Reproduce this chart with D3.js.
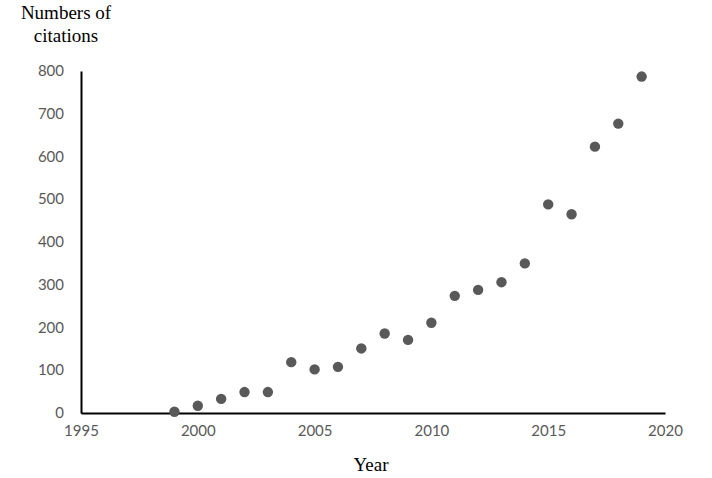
<!DOCTYPE html>
<html>
<head>
<meta charset="utf-8">
<script src="https://cdn.jsdelivr.net/npm/d3@7"></script>
<style>
  body { margin: 0; background: #fff; }
  .tick text { font-family: Lato, "Open Sans", sans-serif; font-size: 15px; fill: #595959; }
  .title { font-family: "Liberation Serif", "Times New Roman", serif; font-size: 19px; fill: #000; }
</style>
</head>
<body>
<div id="chart"></div>
<script>
// citations per year
var years = [1999, 2000, 2001, 2002, 2003, 2004, 2005, 2006, 2007, 2008,
             2009, 2010, 2011, 2012, 2013, 2014, 2015, 2016, 2017, 2018, 2019];
var citations = [3, 17, 33, 49, 49, 119, 102, 108, 151, 186,
                 171, 211, 274, 288, 306, 350, 488, 465, 623, 677, 787];
var xTicks = [1995, 2000, 2005, 2010, 2015, 2020];
var yTicks = [0, 100, 200, 300, 400, 500, 600, 700, 800];

var W = 712, H = 478;
var margin = { top: 71, right: 47, bottom: 65, left: 81 };
var width = W - margin.left - margin.right,
    height = H - margin.top - margin.bottom;

var svg = d3.select("#chart").append("svg")
    .attr("width", W)
    .attr("height", H);
var g = svg.append("g")
    .attr("transform", "translate(" + margin.left + "," + margin.top + ")");

var x = d3.scaleLinear().domain([1995, 2020]).range([0, width]);
var y = d3.scaleLinear().domain([0, 800]).range([height, 0]);

var xAxis = d3.axisBottom(x).tickValues(xTicks).tickSize(0).tickPadding(12)
    .tickFormat(d3.format("d"));
var yAxis = d3.axisLeft(y).tickValues(yTicks).tickSize(0).tickPadding(17);

var xg = g.append("g")
    .attr("transform", "translate(0," + height + ")")
    .call(xAxis);
xg.select(".domain").attr("stroke", "#000").attr("stroke-width", 2);

var yg = g.append("g").call(yAxis);
yg.select(".domain").attr("stroke", "#000").attr("stroke-width", 2);
yg.selectAll(".tick text").attr("dy", "0.3em");

g.append("g").selectAll("circle")
    .data(years)
    .enter().append("circle")
    .attr("cx", function(d) { return x(d); })
    .attr("cy", function(d, i) { return y(citations[i]); })
    .attr("r", 5.2)
    .style("fill", "#595959");

// axis titles
var t = svg.append("text").attr("class", "title").attr("text-anchor", "middle");
t.append("tspan").attr("x", 66).attr("y", 19).text("Numbers of");
t.append("tspan").attr("x", 66).attr("y", 42).text("citations");

svg.append("text").attr("class", "title")
    .attr("text-anchor", "middle")
    .attr("x", 371).attr("y", 471)
    .text("Year");
</script>
</body>
</html>
